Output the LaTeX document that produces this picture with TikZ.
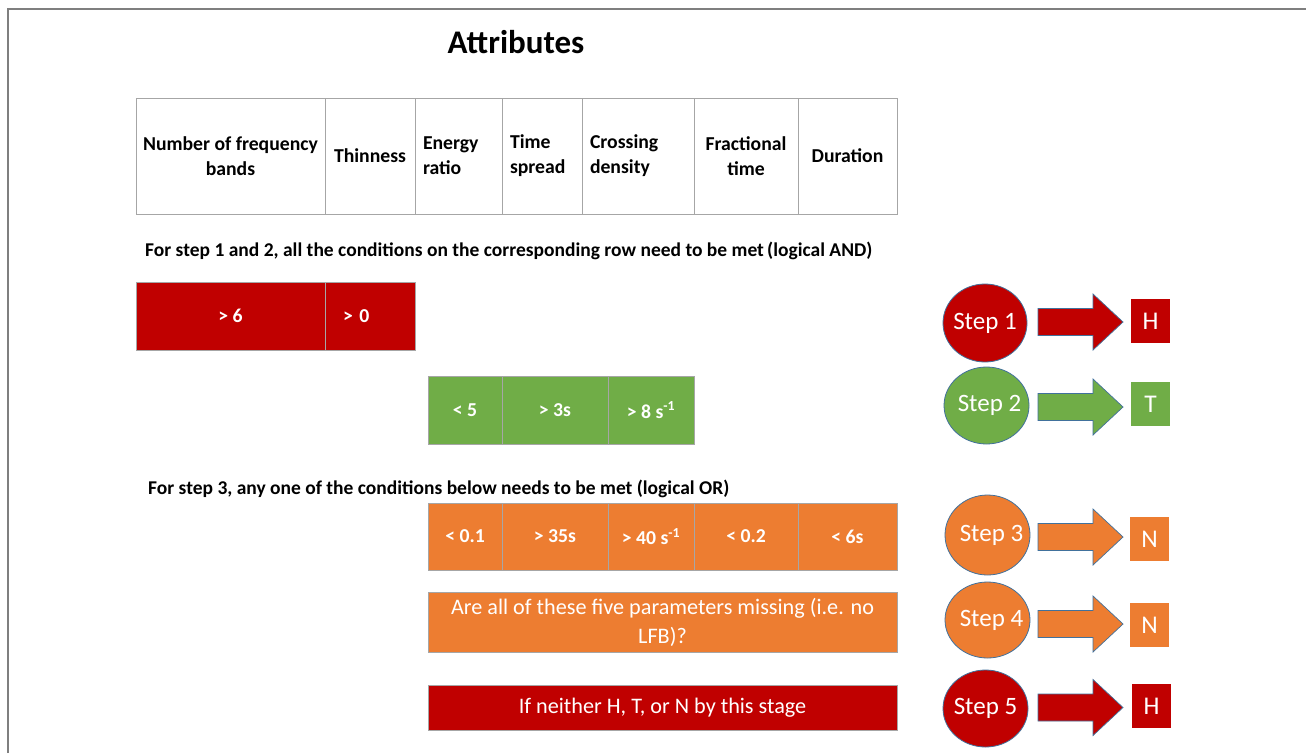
\documentclass[tikz,border=0pt]{standalone}
\usepackage{fontspec}
\setmainfont{Carlito}
\usetikzlibrary{calc,shapes.geometric}
\definecolor{cred}{HTML}{C00000}
\definecolor{cgreen}{HTML}{70AD47}
\definecolor{corange}{HTML}{ED7D31}
\definecolor{cgrid}{HTML}{A6A6A6}
\definecolor{cframe}{HTML}{7F7F7F}
\definecolor{cedge}{HTML}{41719C}
\tikzset{
  cell/.style={draw=cgrid, line width=1pt, rectangle, inner sep=0pt, font=\fontsize{19.7}{25}\selectfont\bfseries},
  hcell/.style={cell, fill=white, text=black},
  redcell/.style={cell, fill=cred, text=white},
  greencell/.style={cell, fill=cgreen, text=white},
  orcell/.style={cell, fill=corange, text=white},
  stepnode/.style={ellipse, draw=cedge, line width=0.8pt, text=white, inner sep=0pt, font=\fontsize{25}{28}\selectfont},
  resnode/.style={rectangle, inner sep=0pt, minimum width=39pt, minimum height=44pt, text=white, font=\fontsize{25.5}{28}\selectfont},
  barrow/.style={draw=cedge, line width=0.7pt},
  label/.style={anchor=base west, inner sep=0pt, font=\fontsize{19.5}{22}\selectfont\bfseries},
}
\newcommand{\blockarrow}[2]{% start coordinate, colour
  \filldraw[barrow, fill=#2] ($(#1)+(0,-13.5)$) -- ++(55,0) -- ++(0,-14.5) -- ++(30,28) -- ++(-30,28) -- ++(0,-14.5) -- ++(-55,0) -- cycle;}
\newcommand{\steptext}[2]{\makebox[40pt]{\hspace*{#1pt}#2}}
\begin{document}
\begin{tikzpicture}[x=1pt, y=-1pt]
\useasboundingbox (0,0) rectangle (1306,753);
\fill[white] (0,0) rectangle (1306,753);
\draw[cframe, line width=2pt] (8,753) -- (8,9) -- (1306,9);

\node[font=\fontsize{33}{36}\selectfont\bfseries] (title) at (516,42) {Attributes};

% header table
\node[hcell, minimum width=189pt, minimum height=116pt, align=center] (h1) at (230.5,156) {Number of frequency\\bands};
\node[hcell, minimum width=90pt, minimum height=116pt] (h2) at (370,156) {Thinness};
\node[hcell, minimum width=87pt, minimum height=116pt, align=left, text width=71pt] (h3) at (458.5,156) {Energy\\ratio};
\node[hcell, minimum width=80pt, minimum height=116pt, align=left, text width=64pt] (h4) at (542,156) {Time\\spread};
\node[hcell, minimum width=112pt, minimum height=116pt, align=left, text width=96pt] (h5) at (638,156) {Crossing\\density};
\node[hcell, minimum width=104pt, minimum height=116pt, align=center] (h6) at (746,156) {Fractional\\time};
\node[hcell, minimum width=99pt, minimum height=116pt] (h7) at (847.5,156) {Duration};

\node[label] (lab1) at (145,256) {For step 1 and 2, all the conditions on the corresponding row need to be met\,(logical AND)};

% step 1 row
\node[redcell, minimum width=189pt, minimum height=68pt] (r1a) at (230.5,316) {> 6};
\node[redcell, minimum width=90pt, minimum height=68pt, align=left, text width=54pt] (r1b) at (370,316) {> 0};

% step 2 row
\node[greencell, minimum width=74pt, minimum height=68pt] (g1) at (465,410) {< 5};
\node[greencell, minimum width=106pt, minimum height=68pt] (g2) at (555,410) {> 3s};
\node[greencell, minimum width=86pt, minimum height=68pt] (g3) at (651,410) {> 8 s\textsuperscript{-1}};

\node[label] (lab2) at (148,494) {For step 3, any one of the conditions below needs to be met (logical OR)};

% step 3 row
\node[orcell, minimum width=74pt, minimum height=67pt] (o1) at (465,536.5) {< 0.1};
\node[orcell, minimum width=106pt, minimum height=67pt] (o2) at (555,536.5) {> 35s};
\node[orcell, minimum width=86pt, minimum height=67pt] (o3) at (651,536.5) {> 40 s\textsuperscript{-1}};
\node[orcell, minimum width=104pt, minimum height=67pt] (o4) at (746,536.5) {< 0.2};
\node[orcell, minimum width=99pt, minimum height=67pt] (o5) at (847.5,536.5) {< 6s};

% step 4 / 5 boxes
\node[orcell, minimum width=469pt, minimum height=60pt, align=center, font=\fontsize{22.2}{29}\selectfont] (q4) at (662.5,622) {Are all of these five parameters missing (i.e. no\\LFB)?};
\node[redcell, minimum width=469pt, minimum height=45pt, font=\fontsize{22.2}{26}\selectfont] (q5) at (662.5,707.5) {If neither H, T, or N by this stage};

% steps
\node[stepnode, fill=cred, minimum width=84pt, minimum height=78pt] (s1) at (985,323) {\steptext{0}{Step 1}};
\node[stepnode, fill=cgreen, minimum width=85pt, minimum height=77pt] (s2) at (986.5,405.5) {\steptext{6}{Step 2}};
\node[stepnode, fill=corange, minimum width=85pt, minimum height=80pt] (s3) at (987.5,535) {\steptext{8}{Step 3}};
\node[stepnode, fill=corange, minimum width=85pt, minimum height=76pt] (s4) at (987.5,620) {\steptext{8}{Step 4}};
\node[stepnode, fill=cred, minimum width=85pt, minimum height=77pt] (s5) at (985.5,708.5) {\steptext{0}{Step 5}};

% results
\node[resnode, fill=cred] (t1) at (1150.5,321) {H};
\node[resnode, fill=cgreen] (t2) at (1150.5,404) {T};
\node[resnode, fill=corange] (t3) at (1149.5,539) {N};
\node[resnode, fill=corange] (t4) at (1149.5,625) {N};
\node[resnode, fill=cred] (t5) at (1151.5,706) {H};

% block arrows
\coordinate (a1) at (1038,322);
\coordinate (a2) at (1038,407);
\coordinate (a3) at (1038,537);
\coordinate (a4) at (1038,624);
\coordinate (a5) at (1038,707.5);
\blockarrow{a1}{cred}
\blockarrow{a2}{cgreen}
\blockarrow{a3}{corange}
\blockarrow{a4}{corange}
\blockarrow{a5}{cred}
\end{tikzpicture}
\end{document}
